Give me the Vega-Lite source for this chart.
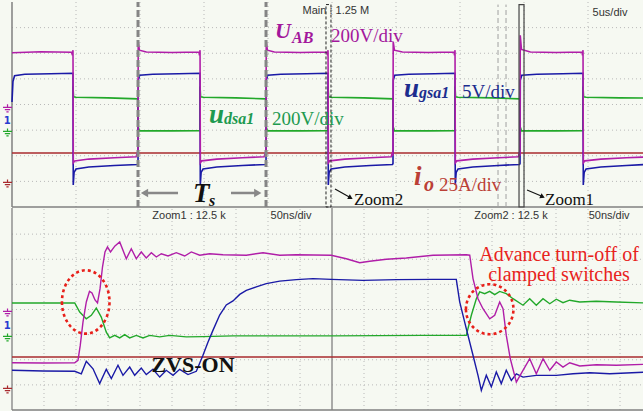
{
"$schema": "https://vega.github.io/schema/vega-lite/v6.json",
"background": "#f6f9f2",
"padding": 0,
"spacing": 1,
"bounds": "flush",
"config": {"view": {"stroke": null}},
"vconcat": [
{
"width": 643, "height": 205,
"encoding": {
 "x": {"field": "x", "type": "quantitative", "scale": {"domain": [-0.1406, 9.906], "nice": false, "zero": false}, "axis": null},
 "y": {"field": "y", "type": "quantitative", "scale": {"domain": [0, 8], "nice": false, "zero": false}, "axis": null}
},
"layer": [
 {"data": {"values": [{"x":1,"y":0,"y2":8},{"x":2,"y":0,"y2":8},{"x":3,"y":0,"y2":8},{"x":4,"y":0,"y2":8},{"x":5,"y":0,"y2":8},{"x":6,"y":0,"y2":8},{"x":7,"y":0,"y2":8},{"x":8,"y":0,"y2":8},{"x":9,"y":0,"y2":8}]},
  "mark": {"type": "rule", "stroke": "#b8b8b8", "strokeDash": [1, 3], "strokeWidth": 1},
  "encoding": {"y2": {"field": "y2"}}},
 {"data": {"values": [{"x":0,"x2":9.906,"y":1},{"x":0,"x2":9.906,"y":2},{"x":0,"x2":9.906,"y":3},{"x":0,"x2":9.906,"y":4},{"x":0,"x2":9.906,"y":5},{"x":0,"x2":9.906,"y":6},{"x":0,"x2":9.906,"y":7}]},
  "mark": {"type": "rule", "stroke": "#b8b8b8", "strokeDash": [1, 3], "strokeWidth": 1},
  "encoding": {"x2": {"field": "x2"}}},
 {"data": {"values": [{"x":0,"y":0,"y2":8}]},
  "mark": {"type": "rule", "stroke": "#808080", "strokeWidth": 1.5},
  "encoding": {"y2": {"field": "y2"}}},
 {"data": {"values": [{"x":0,"x2":9.906,"y":0}]},
  "mark": {"type": "rule", "stroke": "#808080", "strokeWidth": 1.5},
  "encoding": {"x2": {"field": "x2"}}},
 {"data": {"values": [{"x":7.594,"y":0,"y2":7.9},{"x":7.719,"y":0,"y2":7.9}]},
  "mark": {"type": "rule", "stroke": "#a0a0a0", "strokeDash": [5, 3], "strokeWidth": 1},
  "encoding": {"y2": {"field": "y2"}}},
 {"data": {"values": [
  {"s":"r","x":0,"y":2.11},{"s":"r","x":9.906,"y":2.11},
  {"s":"g","x":0.953,"y":4.7},{"s":"g","x":0.962,"y":4.3},{"s":"g","x":1.0,"y":4.28},{"s":"g","x":1.5,"y":4.26},{"s":"g","x":1.965,"y":4.22},{"s":"g","x":1.969,"y":2.97},{"s":"g","x":1.975,"y":3.1},{"s":"g","x":1.99,"y":2.97},{"s":"g","x":2.5,"y":2.97},{"s":"g","x":2.935,"y":2.98},
  {"s":"g","x":2.938,"y":4.7},{"s":"g","x":2.947,"y":4.3},{"s":"g","x":2.99,"y":4.28},{"s":"g","x":3.5,"y":4.26},{"s":"g","x":3.965,"y":4.22},{"s":"g","x":3.969,"y":2.97},{"s":"g","x":3.975,"y":3.1},{"s":"g","x":3.99,"y":2.97},{"s":"g","x":4.5,"y":2.97},{"s":"g","x":4.935,"y":2.98},
  {"s":"g","x":4.938,"y":4.7},{"s":"g","x":4.947,"y":4.3},{"s":"g","x":4.99,"y":4.28},{"s":"g","x":5.5,"y":4.26},{"s":"g","x":5.95,"y":4.22},{"s":"g","x":5.953,"y":2.97},{"s":"g","x":5.96,"y":3.1},{"s":"g","x":5.975,"y":2.97},{"s":"g","x":6.5,"y":2.97},{"s":"g","x":6.92,"y":2.98},
  {"s":"g","x":6.922,"y":4.7},{"s":"g","x":6.931,"y":4.3},{"s":"g","x":6.97,"y":4.28},{"s":"g","x":7.5,"y":4.26},{"s":"g","x":7.935,"y":4.22},{"s":"g","x":7.938,"y":2.6},{"s":"g","x":7.945,"y":3.1},{"s":"g","x":7.96,"y":2.97},{"s":"g","x":8.5,"y":2.97},{"s":"g","x":8.92,"y":2.98},
  {"s":"g","x":8.922,"y":4.7},{"s":"g","x":8.931,"y":4.3},{"s":"g","x":8.97,"y":4.28},{"s":"g","x":9.5,"y":4.26},{"s":"g","x":9.906,"y":4.25},
  {"s":"b","x":0,"y":4.1},{"s":"b","x":0.015,"y":4.9},{"s":"b","x":0.04,"y":5.12},{"s":"b","x":0.2,"y":5.18},{"s":"b","x":0.6,"y":5.2},{"s":"b","x":0.953,"y":5.22},{"s":"b","x":0.957,"y":0.86},{"s":"b","x":0.97,"y":1.35},{"s":"b","x":1.0,"y":1.48},{"s":"b","x":1.2,"y":1.56},{"s":"b","x":1.6,"y":1.62},{"s":"b","x":1.96,"y":1.66},{"s":"b","x":1.969,"y":1.7},
  {"s":"b","x":1.973,"y":4.95},{"s":"b","x":1.995,"y":5.14},{"s":"b","x":2.2,"y":5.18},{"s":"b","x":2.6,"y":5.2},{"s":"b","x":2.938,"y":5.22},{"s":"b","x":2.942,"y":0.86},{"s":"b","x":2.955,"y":1.35},{"s":"b","x":2.985,"y":1.48},{"s":"b","x":3.2,"y":1.56},{"s":"b","x":3.6,"y":1.62},{"s":"b","x":3.96,"y":1.66},{"s":"b","x":3.969,"y":1.7},
  {"s":"b","x":3.973,"y":4.95},{"s":"b","x":3.995,"y":5.14},{"s":"b","x":4.2,"y":5.18},{"s":"b","x":4.6,"y":5.2},{"s":"b","x":4.938,"y":5.22},{"s":"b","x":4.942,"y":0.86},{"s":"b","x":4.955,"y":1.35},{"s":"b","x":4.985,"y":1.48},{"s":"b","x":5.2,"y":1.56},{"s":"b","x":5.6,"y":1.62},{"s":"b","x":5.945,"y":1.66},{"s":"b","x":5.953,"y":1.7},
  {"s":"b","x":5.957,"y":4.95},{"s":"b","x":5.98,"y":5.14},{"s":"b","x":6.2,"y":5.18},{"s":"b","x":6.6,"y":5.2},{"s":"b","x":6.922,"y":5.22},{"s":"b","x":6.926,"y":0.86},{"s":"b","x":6.94,"y":1.35},{"s":"b","x":6.97,"y":1.48},{"s":"b","x":7.2,"y":1.56},{"s":"b","x":7.6,"y":1.62},{"s":"b","x":7.93,"y":1.66},{"s":"b","x":7.938,"y":1.7},
  {"s":"b","x":7.942,"y":4.95},{"s":"b","x":7.965,"y":5.14},{"s":"b","x":8.2,"y":5.18},{"s":"b","x":8.6,"y":5.2},{"s":"b","x":8.922,"y":5.22},{"s":"b","x":8.926,"y":0.86},{"s":"b","x":8.94,"y":1.35},{"s":"b","x":8.97,"y":1.48},{"s":"b","x":9.2,"y":1.56},{"s":"b","x":9.6,"y":1.62},{"s":"b","x":9.906,"y":1.66},
  {"s":"m","x":0,"y":6.02},{"s":"m","x":0.45,"y":6.06},{"s":"m","x":0.93,"y":6.04},{"s":"m","x":0.945,"y":5.92},{"s":"m","x":0.953,"y":6.12},{"s":"m","x":0.958,"y":1.72},{"s":"m","x":0.98,"y":1.8},{"s":"m","x":1.2,"y":1.87},{"s":"m","x":1.6,"y":1.92},{"s":"m","x":1.94,"y":1.96},{"s":"m","x":1.962,"y":2.15},{"s":"m","x":1.969,"y":2.0},
  {"s":"m","x":1.972,"y":6.45},{"s":"m","x":1.99,"y":6.12},{"s":"m","x":2.1,"y":6.05},{"s":"m","x":2.5,"y":6.03},{"s":"m","x":2.92,"y":6.05},{"s":"m","x":2.93,"y":5.92},{"s":"m","x":2.938,"y":6.12},{"s":"m","x":2.943,"y":1.72},{"s":"m","x":2.965,"y":1.8},{"s":"m","x":3.2,"y":1.87},{"s":"m","x":3.6,"y":1.92},{"s":"m","x":3.94,"y":1.96},{"s":"m","x":3.962,"y":2.15},{"s":"m","x":3.969,"y":2.0},
  {"s":"m","x":3.972,"y":6.45},{"s":"m","x":3.99,"y":6.12},{"s":"m","x":4.1,"y":6.05},{"s":"m","x":4.5,"y":6.03},{"s":"m","x":4.92,"y":6.05},{"s":"m","x":4.93,"y":5.92},{"s":"m","x":4.938,"y":6.12},{"s":"m","x":4.943,"y":1.72},{"s":"m","x":4.965,"y":1.8},{"s":"m","x":5.2,"y":1.87},{"s":"m","x":5.6,"y":1.92},{"s":"m","x":5.925,"y":1.96},{"s":"m","x":5.946,"y":2.15},{"s":"m","x":5.953,"y":2.0},
  {"s":"m","x":5.956,"y":6.45},{"s":"m","x":5.975,"y":6.12},{"s":"m","x":6.1,"y":6.05},{"s":"m","x":6.5,"y":6.03},{"s":"m","x":6.905,"y":6.05},{"s":"m","x":6.915,"y":5.92},{"s":"m","x":6.922,"y":6.12},{"s":"m","x":6.927,"y":1.72},{"s":"m","x":6.95,"y":1.8},{"s":"m","x":7.2,"y":1.87},{"s":"m","x":7.6,"y":1.92},{"s":"m","x":7.91,"y":1.96},{"s":"m","x":7.931,"y":2.15},{"s":"m","x":7.938,"y":2.0},
  {"s":"m","x":7.941,"y":6.7},{"s":"m","x":7.96,"y":6.15},{"s":"m","x":8.1,"y":6.05},{"s":"m","x":8.5,"y":6.03},{"s":"m","x":8.905,"y":6.05},{"s":"m","x":8.915,"y":5.92},{"s":"m","x":8.922,"y":6.12},{"s":"m","x":8.927,"y":1.72},{"s":"m","x":8.95,"y":1.8},{"s":"m","x":9.2,"y":1.87},{"s":"m","x":9.6,"y":1.92},{"s":"m","x":9.906,"y":1.95}
 ]},
  "mark": {"type": "line", "strokeWidth": 1.6},
  "encoding": {
   "color": {"field": "s", "type": "nominal", "scale": {"domain": ["m","b","g","r"], "range": ["#b01ea8","#1a1aa6","#22a82a","#a82a2e"]}, "legend": null},
   "detail": {"field": "s"},
   "order": {"value": null}
  }},
 {"data": {"values": [{"x":1.969,"y":0,"y2":8},{"x":3.969,"y":0,"y2":8}]},
  "mark": {"type": "rule", "stroke": "#858585", "strokeWidth": 3, "strokeDash": [7, 3]},
  "encoding": {"y2": {"field": "y2"}}},
 {"data": {"values": [{"x":4.906,"x2":4.984,"y":0,"y2":7.9}]},
  "mark": {"type": "rect", "filled": false, "color": "#222222", "strokeWidth": 1, "strokeDash": [3, 2]},
  "encoding": {"x2": {"field": "x2"}, "y2": {"field": "y2"}}},
 {"data": {"values": [{"x":7.922,"x2":8.0,"y":0,"y2":7.9}]},
  "mark": {"type": "rect", "filled": false, "color": "#444444", "strokeWidth": 1.2},
  "encoding": {"x2": {"field": "x2"}, "y2": {"field": "y2"}}},
 {"data": {"values": [{"x":2.594,"x2":2.10,"y":0.547,"y2":0.547},{"x":3.422,"x2":3.80,"y":0.547,"y2":0.547}]},
  "mark": {"type": "rule", "stroke": "#888888", "strokeWidth": 2.5},
  "encoding": {"x2": {"field": "x2"}, "y2": {"field": "y2"}}},
 {"data": {"values": [{"x":2.07,"y":0.547}]},
  "mark": {"type": "point", "shape": "triangle-left", "filled": true, "color": "#888888", "size": 70, "opacity": 1}},
 {"data": {"values": [{"x":3.84,"y":0.547}]},
  "mark": {"type": "point", "shape": "triangle-right", "filled": true, "color": "#888888", "size": 70, "opacity": 1}},
 {"data": {"values": [{"x":5.047,"x2":5.27,"y":0.703,"y2":0.39},{"x":8.047,"x2":8.27,"y":0.664,"y2":0.43}]},
  "mark": {"type": "rule", "stroke": "#111111", "strokeWidth": 1.2},
  "encoding": {"x2": {"field": "x2"}, "y2": {"field": "y2"}}},
 {"data": {"values": [{"x":5.29,"y":0.36}]},
  "mark": {"type": "point", "shape": "triangle-right", "filled": true, "color": "#111111", "size": 30, "angle": 29, "opacity": 1}},
 {"data": {"values": [{"x":8.29,"y":0.40}]},
  "mark": {"type": "point", "shape": "triangle-right", "filled": true, "color": "#111111", "size": 30, "angle": 24, "opacity": 1}},
 {"data": {"values": [{"x":-0.07,"y":3.83,"s":"m"},{"x":-0.07,"y":2.89,"s":"g"},{"x":-0.07,"y":0.9,"s":"r"}]},
  "mark": {"type": "point", "shape": "M0,-1L0,-0.35M-1,-0.35L1,-0.35M-0.6,0.15L0.6,0.15M-0.25,0.65L0.25,0.65", "filled": false, "size": 81, "strokeWidth": 1.2, "opacity": 1},
  "encoding": {"color": {"field": "s", "type": "nominal", "legend": null}}},
 {"data": {"values": [{"x":-0.075,"y":3.24,"t":"1"}]},
  "mark": {"type": "text", "font": "DejaVu Sans", "fontWeight": "bold", "fontSize": 10, "color": "#2a3bd0", "align": "center", "baseline": "alphabetic"},
  "encoding": {"text": {"field": "t"}}},
 {"data": {"values": [{"x":5.06,"y":7.54,"t":"Main : 1.25 M"},{"x":9.344,"y":7.46,"t":"5us/div"}]},
  "mark": {"type": "text", "font": "Liberation Sans", "fontSize": 11, "color": "#333333", "align": "center", "baseline": "alphabetic"},
  "encoding": {"text": {"field": "t"}}},
 {"data": {"values": [{"x":3.078,"y":3.28,"t":"u","k":"g"},{"x":6.125,"y":4.3,"t":"u","k":"b"},{"x":6.281,"y":0.86,"t":"i","k":"r"},{"x":2.828,"y":0.195,"t":"T","k":"k"}]},
  "mark": {"type": "text", "font": "Liberation Serif", "fontStyle": "italic", "fontWeight": "bold", "fontSize": 27, "align": "left", "baseline": "alphabetic"},
  "encoding": {"text": {"field": "t"}, "fill": {"field": "k", "type": "nominal", "scale": {"domain": ["m","g","b","r","k"], "range": ["#a3189c","#1e9a50","#1c2d8e","#bb4036","#111111"]}, "legend": null}}},
 {"data": {"values": [{"x":4.109,"y":6.6,"t":"U","k":"m"}]},
  "mark": {"type": "text", "font": "Liberation Serif", "fontStyle": "italic", "fontWeight": "bold", "fontSize": 22, "align": "left", "baseline": "alphabetic"},
  "encoding": {"text": {"field": "t"}, "fill": {"field": "k", "type": "nominal", "legend": null}}},
 {"data": {"values": [{"x":4.375,"y":6.41,"t":"AB","k":"m"},{"x":3.313,"y":3.25,"t":"dsa1","k":"g"},{"x":6.359,"y":4.26,"t":"gsa1","k":"b"},{"x":3.078,"y":0.04,"t":"s","k":"k"}]},
  "mark": {"type": "text", "font": "Liberation Serif", "fontStyle": "italic", "fontWeight": "bold", "fontSize": 16, "align": "left", "baseline": "alphabetic"},
  "encoding": {"text": {"field": "t"}, "fill": {"field": "k", "type": "nominal", "legend": null}}},
 {"data": {"values": [{"x":6.438,"y":0.625,"t":"o","k":"r"}]},
  "mark": {"type": "text", "font": "Liberation Serif", "fontStyle": "italic", "fontWeight": "bold", "fontSize": 20, "align": "left", "baseline": "alphabetic"},
  "encoding": {"text": {"field": "t"}, "fill": {"field": "k", "type": "nominal", "legend": null}}},
 {"data": {"values": [{"x":4.984,"y":6.45,"t":"200V/div","k":"m"},{"x":4.063,"y":3.2,"t":"200V/div","k":"g"},{"x":7.031,"y":4.26,"t":"5V/div","k":"b"},{"x":6.672,"y":0.625,"t":"25A/div","k":"r"}]},
  "mark": {"type": "text", "font": "Liberation Serif", "fontSize": 19, "align": "left", "baseline": "alphabetic"},
  "encoding": {"text": {"field": "t"}, "fill": {"field": "k", "type": "nominal", "legend": null}}},
 {"data": {"values": [{"x":5.344,"y":0.078,"t":"Zoom2"},{"x":8.328,"y":0.078,"t":"Zoom1"}]},
  "mark": {"type": "text", "font": "Liberation Serif", "fontSize": 17, "color": "#111111", "align": "left", "baseline": "alphabetic"},
  "encoding": {"text": {"field": "t"}}}
]
},
{
"width": 643, "height": 205,
"encoding": {
 "x": {"field": "x", "type": "quantitative", "scale": {"domain": [-0.1406, 9.906], "nice": false, "zero": false}, "axis": null},
 "y": {"field": "y", "type": "quantitative", "scale": {"domain": [-0.1194, 8.04], "nice": false, "zero": false}, "axis": null}
},
"layer": [
 {"data": {"values": [{"x":0.5,"y":0,"y2":8.04},{"x":1,"y":0,"y2":8.04},{"x":1.5,"y":0,"y2":8.04},{"x":2,"y":0,"y2":8.04},{"x":2.5,"y":0,"y2":8.04},{"x":3,"y":0,"y2":8.04},{"x":3.5,"y":0,"y2":8.04},{"x":4,"y":0,"y2":8.04},{"x":4.5,"y":0,"y2":8.04},{"x":5.5,"y":0,"y2":8.04},{"x":6,"y":0,"y2":8.04},{"x":6.5,"y":0,"y2":8.04},{"x":7,"y":0,"y2":8.04},{"x":7.5,"y":0,"y2":8.04},{"x":8,"y":0,"y2":8.04},{"x":8.5,"y":0,"y2":8.04},{"x":9,"y":0,"y2":8.04},{"x":9.5,"y":0,"y2":8.04}]},
  "mark": {"type": "rule", "stroke": "#b8b8b8", "strokeDash": [1, 3], "strokeWidth": 1},
  "encoding": {"y2": {"field": "y2"}}},
 {"data": {"values": [{"x":0,"x2":9.906,"y":1},{"x":0,"x2":9.906,"y":2},{"x":0,"x2":9.906,"y":3},{"x":0,"x2":9.906,"y":4},{"x":0,"x2":9.906,"y":5},{"x":0,"x2":9.906,"y":6},{"x":0,"x2":9.906,"y":7}]},
  "mark": {"type": "rule", "stroke": "#b8b8b8", "strokeDash": [1, 3], "strokeWidth": 1},
  "encoding": {"x2": {"field": "x2"}}},
 {"data": {"values": [{"x":5,"y":0,"y2":8.04},{"x":0,"y":0,"y2":8.04}]},
  "mark": {"type": "rule", "stroke": "#808080", "strokeWidth": 1.3},
  "encoding": {"y2": {"field": "y2"}}},
 {"data": {"values": [{"x":0,"x2":9.906,"y":0}]},
  "mark": {"type": "rule", "stroke": "#808080", "strokeWidth": 1.5},
  "encoding": {"x2": {"field": "x2"}}},
 {"data": {"values": [
  {"s":"r","x":0,"y":2.11},{"s":"r","x":9.906,"y":2.11},
  {"s":"g","x":0,"y":4.26},{"s":"g","x":0.98,"y":4.26},{"s":"g","x":1.058,"y":3.9},{"s":"g","x":1.161,"y":3.63},{"s":"g","x":1.239,"y":3.77},{"s":"g","x":1.317,"y":4.06},{"s":"g","x":1.395,"y":3.7},{"s":"g","x":1.473,"y":3.1},{"s":"g","x":1.527,"y":2.87},{"s":"g","x":1.605,"y":2.97},{"s":"g","x":1.683,"y":2.87},{"s":"g","x":1.761,"y":3.0},{"s":"g","x":1.839,"y":2.87},{"s":"g","x":1.942,"y":2.97},{"s":"g","x":2.047,"y":2.87},{"s":"g","x":2.152,"y":2.97},{"s":"g","x":2.308,"y":2.91},{"s":"g","x":2.464,"y":2.97},{"s":"g","x":2.723,"y":2.91},{"s":"g","x":2.984,"y":2.92},{"s":"g","x":3.453,"y":2.95},{"s":"g","x":4.23,"y":2.95},{"s":"g","x":5.02,"y":2.95},{"s":"g","x":6.422,"y":2.97},{"s":"g","x":7.098,"y":2.97},{"s":"g","x":7.177,"y":3.77},{"s":"g","x":7.255,"y":4.43},{"s":"g","x":7.308,"y":4.7},{"s":"g","x":7.386,"y":4.63},{"s":"g","x":7.464,"y":4.72},{"s":"g","x":7.542,"y":4.59},{"s":"g","x":7.62,"y":4.72},{"s":"g","x":7.723,"y":4.63},{"s":"g","x":7.828,"y":4.43},{"s":"g","x":7.984,"y":4.17},{"s":"g","x":8.089,"y":4.43},{"s":"g","x":8.192,"y":4.17},{"s":"g","x":8.297,"y":4.43},{"s":"g","x":8.402,"y":4.23},{"s":"g","x":8.505,"y":4.41},{"s":"g","x":8.609,"y":4.27},{"s":"g","x":8.714,"y":4.37},{"s":"g","x":8.87,"y":4.3},{"s":"g","x":9.13,"y":4.33},{"s":"g","x":9.442,"y":4.3},{"s":"g","x":9.906,"y":4.26},
  {"s":"b","x":0,"y":1.58},{"s":"b","x":0.484,"y":1.55},{"s":"b","x":0.98,"y":1.54},{"s":"b","x":1.083,"y":1.44},{"s":"b","x":1.161,"y":1.94},{"s":"b","x":1.266,"y":1.64},{"s":"b","x":1.37,"y":1.05},{"s":"b","x":1.473,"y":1.62},{"s":"b","x":1.552,"y":1.25},{"s":"b","x":1.656,"y":1.78},{"s":"b","x":1.734,"y":1.38},{"s":"b","x":1.839,"y":1.71},{"s":"b","x":1.917,"y":1.38},{"s":"b","x":2.02,"y":1.67},{"s":"b","x":2.098,"y":1.41},{"s":"b","x":2.203,"y":1.62},{"s":"b","x":2.308,"y":1.31},{"s":"b","x":2.411,"y":1.58},{"s":"b","x":2.516,"y":1.38},{"s":"b","x":2.62,"y":1.62},{"s":"b","x":2.75,"y":1.41},{"s":"b","x":2.88,"y":1.54},{"s":"b","x":2.984,"y":2.18},{"s":"b","x":3.063,"y":2.71},{"s":"b","x":3.141,"y":3.18},{"s":"b","x":3.245,"y":3.78},{"s":"b","x":3.348,"y":4.18},{"s":"b","x":3.453,"y":4.34},{"s":"b","x":3.558,"y":4.6},{"s":"b","x":3.661,"y":4.76},{"s":"b","x":3.817,"y":4.9},{"s":"b","x":3.973,"y":5.03},{"s":"b","x":4.183,"y":5.13},{"s":"b","x":4.442,"y":5.19},{"s":"b","x":4.703,"y":5.23},{"s":"b","x":4.989,"y":5.2},{"s":"b","x":5.484,"y":5.16},{"s":"b","x":6.005,"y":5.19},{"s":"b","x":6.578,"y":5.2},{"s":"b","x":6.942,"y":5.2},{"s":"b","x":6.995,"y":4.3},{"s":"b","x":7.098,"y":3.24},{"s":"b","x":7.203,"y":2.18},{"s":"b","x":7.281,"y":1.38},{"s":"b","x":7.333,"y":0.78},{"s":"b","x":7.411,"y":1.38},{"s":"b","x":7.489,"y":0.92},{"s":"b","x":7.567,"y":1.51},{"s":"b","x":7.645,"y":1.05},{"s":"b","x":7.723,"y":1.58},{"s":"b","x":7.802,"y":1.18},{"s":"b","x":7.88,"y":1.44},{"s":"b","x":7.984,"y":1.31},{"s":"b","x":8.192,"y":1.38},{"s":"b","x":8.505,"y":1.38},{"s":"b","x":8.766,"y":1.44},{"s":"b","x":9.027,"y":1.48},{"s":"b","x":9.339,"y":1.44},{"s":"b","x":9.906,"y":1.51},
  {"s":"m","x":0,"y":1.88},{"s":"m","x":0.484,"y":1.87},{"s":"m","x":0.98,"y":1.88},{"s":"m","x":1.031,"y":1.98},{"s":"m","x":1.067,"y":2.58},{"s":"m","x":1.109,"y":3.5},{"s":"m","x":1.161,"y":4.3},{"s":"m","x":1.211,"y":4.72},{"s":"m","x":1.25,"y":4.66},{"s":"m","x":1.297,"y":4.38},{"s":"m","x":1.336,"y":4.26},{"s":"m","x":1.375,"y":4.82},{"s":"m","x":1.414,"y":5.69},{"s":"m","x":1.453,"y":6.29},{"s":"m","x":1.492,"y":6.49},{"s":"m","x":1.539,"y":6.29},{"s":"m","x":1.609,"y":6.53},{"s":"m","x":1.683,"y":6.69},{"s":"m","x":1.786,"y":6.02},{"s":"m","x":1.864,"y":6.42},{"s":"m","x":1.942,"y":6.02},{"s":"m","x":2.02,"y":6.29},{"s":"m","x":2.098,"y":6.05},{"s":"m","x":2.177,"y":6.26},{"s":"m","x":2.255,"y":6.09},{"s":"m","x":2.333,"y":6.22},{"s":"m","x":2.438,"y":6.13},{"s":"m","x":2.567,"y":6.26},{"s":"m","x":2.698,"y":6.13},{"s":"m","x":2.802,"y":6.29},{"s":"m","x":2.933,"y":6.16},{"s":"m","x":3.089,"y":6.22},{"s":"m","x":3.297,"y":6.18},{"s":"m","x":3.661,"y":6.16},{"s":"m","x":3.922,"y":6.26},{"s":"m","x":4.183,"y":6.16},{"s":"m","x":4.442,"y":6.18},{"s":"m","x":4.989,"y":6.16},{"s":"m","x":5.223,"y":6.02},{"s":"m","x":5.433,"y":5.86},{"s":"m","x":5.589,"y":5.92},{"s":"m","x":5.848,"y":6.0},{"s":"m","x":6.161,"y":6.05},{"s":"m","x":6.578,"y":6.16},{"s":"m","x":7.098,"y":6.18},{"s":"m","x":7.152,"y":6.16},{"s":"m","x":7.203,"y":5.23},{"s":"m","x":7.281,"y":4.43},{"s":"m","x":7.359,"y":4.03},{"s":"m","x":7.464,"y":3.63},{"s":"m","x":7.542,"y":3.77},{"s":"m","x":7.62,"y":4.3},{"s":"m","x":7.672,"y":4.03},{"s":"m","x":7.723,"y":2.97},{"s":"m","x":7.786,"y":2.04},{"s":"m","x":7.88,"y":1.11},{"s":"m","x":7.984,"y":1.58},{"s":"m","x":8.089,"y":2.04},{"s":"m","x":8.192,"y":1.44},{"s":"m","x":8.297,"y":2.04},{"s":"m","x":8.402,"y":1.58},{"s":"m","x":8.505,"y":1.91},{"s":"m","x":8.609,"y":1.71},{"s":"m","x":8.714,"y":1.88},{"s":"m","x":8.87,"y":1.75},{"s":"m","x":9.13,"y":1.8},{"s":"m","x":9.442,"y":1.78},{"s":"m","x":9.906,"y":1.82}
 ]},
  "mark": {"type": "line", "strokeWidth": 1.4},
  "encoding": {
   "color": {"field": "s", "type": "nominal", "scale": {"domain": ["m","b","g","r"], "range": ["#b01ea8","#2a2aa6","#22a82a","#a82a2e"]}, "legend": null},
   "detail": {"field": "s"},
   "order": {"value": null}
  }},
 {"data": {"values": [{"x":1.152,"y":4.3}]},
  "mark": {"type": "point", "shape": "M-0.75,0A0.75,1,0,1,0,0.75,0A0.75,1,0,1,0,-0.75,0", "filled": false, "size": 4020, "stroke": "#e8201a", "strokeWidth": 2.6, "strokeDash": [3, 3], "opacity": 1}},
 {"data": {"values": [{"x":7.464,"y":4.01}]},
  "mark": {"type": "point", "shape": "M-0.95,0A0.95,1,0,1,0,0.95,0A0.95,1,0,1,0,-0.95,0", "filled": false, "size": 2500, "stroke": "#e8201a", "strokeWidth": 2.6, "strokeDash": [3, 3], "opacity": 1}},
 {"data": {"values": [{"x":-0.07,"y":3.86,"s":"m"},{"x":-0.07,"y":2.87,"s":"g"},{"x":-0.07,"y":0.8,"s":"r"}]},
  "mark": {"type": "point", "shape": "M0,-1L0,-0.35M-1,-0.35L1,-0.35M-0.6,0.15L0.6,0.15M-0.25,0.65L0.25,0.65", "filled": false, "size": 81, "strokeWidth": 1.2, "opacity": 1},
  "encoding": {"color": {"field": "s", "type": "nominal", "legend": null}}},
 {"data": {"values": [{"x":-0.075,"y":3.22,"t":"1"}]},
  "mark": {"type": "text", "font": "DejaVu Sans", "fontWeight": "bold", "fontSize": 10, "color": "#2a3bd0", "align": "center", "baseline": "alphabetic"},
  "encoding": {"text": {"field": "t"}}},
 {"data": {"values": [{"x":2.766,"y":7.6,"t":"Zoom1 : 12.5 k"},{"x":4.36,"y":7.6,"t":"50ns/div"},{"x":7.797,"y":7.6,"t":"Zoom2 : 12.5 k"},{"x":9.33,"y":7.6,"t":"50ns/div"}]},
  "mark": {"type": "text", "font": "Liberation Sans", "fontSize": 11, "color": "#333333", "align": "center", "baseline": "alphabetic"},
  "encoding": {"text": {"field": "t"}}},
 {"data": {"values": [{"x":8.547,"y":5.93,"t":"Advance turn-off of"},{"x":8.547,"y":5.13,"t":"clamped switches"}]},
  "mark": {"type": "text", "font": "Liberation Serif", "fontSize": 20, "color": "#e8231c", "align": "center", "baseline": "alphabetic"},
  "encoding": {"text": {"field": "t"}}},
 {"data": {"values": [{"x":2.828,"y":1.51,"t":"ZVS-ON"}]},
  "mark": {"type": "text", "font": "Liberation Serif", "fontWeight": "bold", "fontSize": 22, "color": "#111111", "align": "center", "baseline": "alphabetic"},
  "encoding": {"text": {"field": "t"}}}
]
}
]
}
